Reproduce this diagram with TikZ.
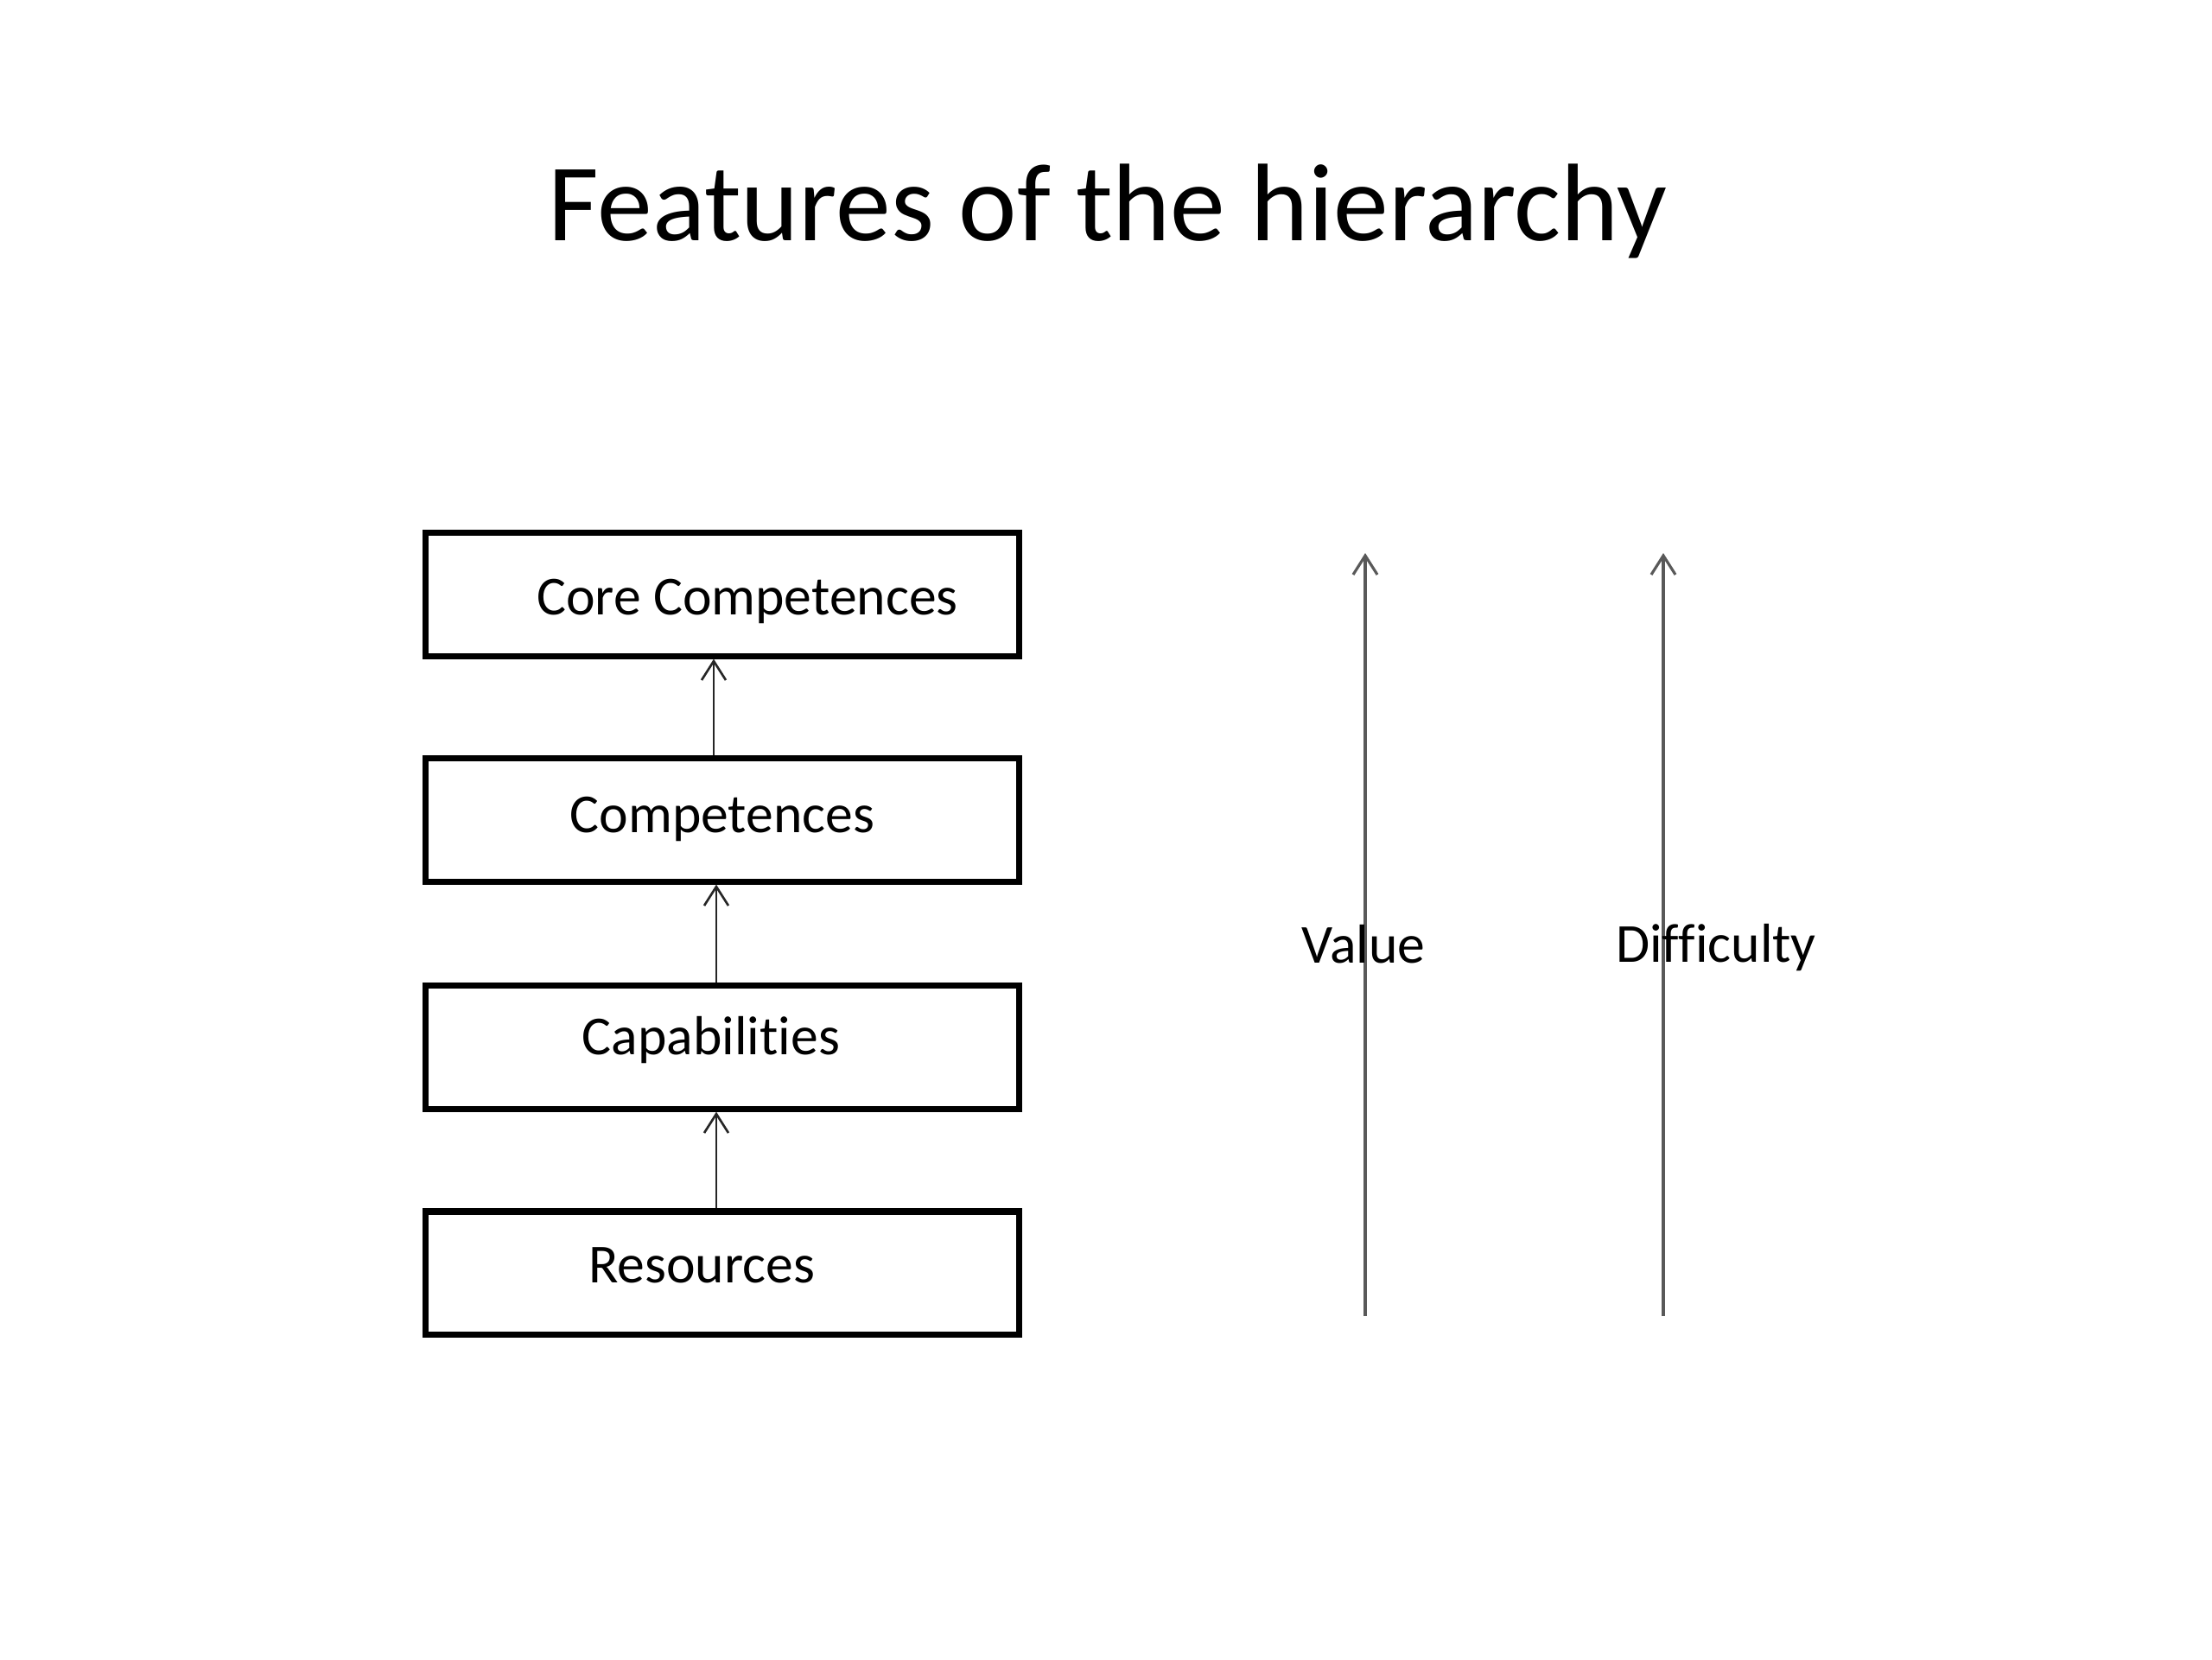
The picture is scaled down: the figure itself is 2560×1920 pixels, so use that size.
\documentclass[tikz,border=0pt]{standalone}
\usepackage{fontspec}
\setmainfont{Carlito}[Ligatures=NoCommon]
\usetikzlibrary{arrows.meta}
\begin{document}
\begin{tikzpicture}[x=0.01cm,y=-0.01cm,
  levelbox/.style={draw=black,line width=2pt,minimum width=6.86cm,minimum height=1.42cm,inner sep=0pt},
  boxtext/.style={font=\fontsize{18.1}{22}\selectfont,inner sep=0pt,anchor=center},
  uparrow/.style={draw=black!85,line width=0.75pt,-{Straight Barb[length=0.22cm,width=0.28cm,line width=0.75pt]}},
  axisarrow/.style={draw=black!65,line width=0.9pt,-{Straight Barb[length=0.22cm,width=0.28cm,line width=0.9pt]}},
  axistext/.style={font=\fontsize{18.1}{22}\selectfont,inner sep=0pt,anchor=center}]
\useasboundingbox[fill=white] (0,0) rectangle (2560,1920);
\node[font=\fontsize{36.3}{42}\selectfont,inner sep=0pt] (title) at (1282,244) {Features of the hierarchy};
\node[levelbox] (b1) at (836,688) {};
\node[levelbox] (b2) at (836,949) {};
\node[levelbox] (b3) at (836,1212) {};
\node[levelbox] (b4) at (836,1473) {};
\node[boxtext] (t1) at (865,696) {Core Competences};
\node[boxtext] (t2) at (836,948) {Competences};
\node[boxtext] (t3) at (823,1204) {Capabilities};
\node[boxtext] (t4) at (812,1464) {Resources};
\draw[uparrow] ([xshift=-0.1cm]b2.north) -- ([xshift=-0.1cm]b1.south);
\draw[uparrow] ([xshift=-0.07cm]b3.north) -- ([xshift=-0.07cm]b2.south);
\draw[uparrow] ([xshift=-0.07cm]b4.north) -- ([xshift=-0.07cm]b3.south);
\coordinate (v0) at (1580,1523);
\coordinate (v1) at (1580,640);
\coordinate (d0) at (1925,1523);
\coordinate (d1) at (1925,640);
\draw[axisarrow] (v0) -- (v1);
\draw[axisarrow] (d0) -- (d1);
\node[axistext] (vl) at (1578,1093) {Value};
\node[axistext] (dl) at (1986,1097) {Difficulty};
\end{tikzpicture}
\end{document}
